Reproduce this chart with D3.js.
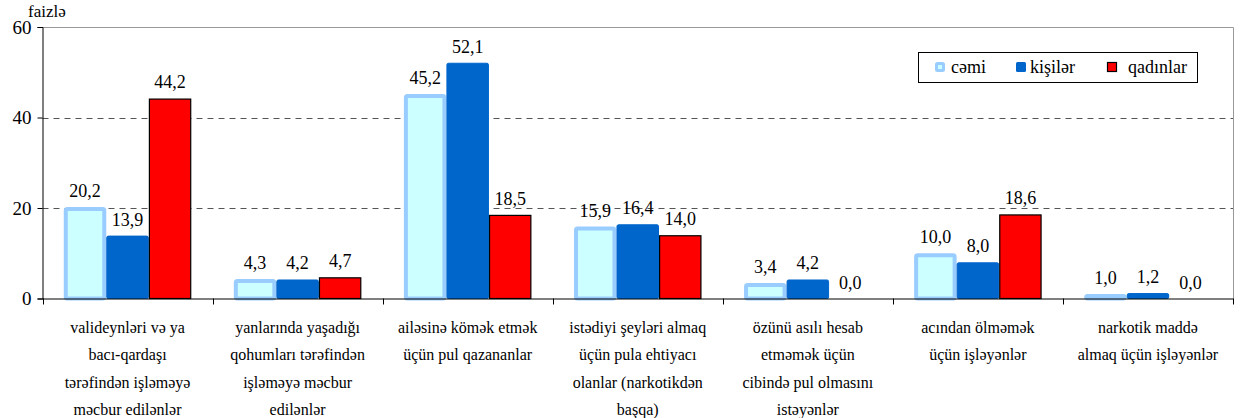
<!DOCTYPE html>
<html><head><meta charset="utf-8">
<script src="https://cdn.jsdelivr.net/npm/d3@7"></script>
<style>
body{margin:0;background:#fff;}
</style></head>
<body><svg id="c" width="1241" height="418"></svg>
<script>
const categories = [
  ["valideynləri və ya","bacı-qardaşı","tərəfindən işləməyə","məcbur edilənlər"],
  ["yanlarında yaşadığı","qohumları tərəfindən","işləməyə məcbur","edilənlər"],
  ["ailəsinə kömək etmək","üçün pul qazananlar"],
  ["istədiyi şeyləri almaq","üçün pula ehtiyacı","olanlar (narkotikdən","başqa)"],
  ["özünü asılı hesab","etməmək üçün","cibində pul olmasını","istəyənlər"],
  ["acından ölməmək","üçün işləyənlər"],
  ["narkotik maddə","almaq üçün işləyənlər"]
];
const seriesNames = ["cəmi","kişilər","qadınlar"];
const cemi     = [20.2, 4.3, 45.2, 15.9, 3.4, 10.0, 1.0];
const kisiler  = [13.9, 4.2, 52.1, 16.4, 4.2, 8.0, 1.2];
const qadinlar = [44.2, 4.7, 18.5, 14.0, 0.0, 18.6, 0.0];
const yTicks = [0, 20, 40, 60];
const yUnit = "faizlə";

const FONT = "Liberation Serif";
const series = [cemi, kisiler, qadinlar];
const svg = d3.select("#c");
const L = 42.5, R = 1233, T = 27, B = 298.5;
const x0 = d3.scaleBand().domain(d3.range(categories.length)).range([L, R]).paddingInner(0.25).paddingOuter(0.125);
const x1 = d3.scaleBand().domain(d3.range(3)).range([0, x0.bandwidth()]);
const y = d3.scaleLinear().domain([0, 60]).range([B, T]);

svg.append("g").selectAll("line").data([20, 40]).join("line")
  .attr("x1", L).attr("x2", R).attr("y1", d => Math.round(y(d)) + 0.5).attr("y2", d => Math.round(y(d)) + 0.5)
  .attr("stroke", "#555").attr("stroke-dasharray", "6,5").attr("stroke-width", 1);
svg.append("path").attr("d", `M${L},${T + 0.5}H${R + 0.5}V${B}`).attr("fill", "none").attr("stroke", "#999").attr("stroke-width", 1);

const styles = [
  {fill: "#CCFFFF", stroke: "#99CCFF", sw: 4},
  {fill: "#0066CC", stroke: "#0066CC", sw: 1},
  {fill: "#FF0000", stroke: "#000", sw: 1.2}
];
series.forEach((vals, s) => {
  const st = styles[s];
  const g = svg.append("g");
  g.selectAll("rect").data(vals).join("rect")
    .attr("x", (d, i) => x0(i) + x1(s) + st.sw / 2)
    .attr("width", x1.bandwidth() - st.sw)
    .attr("y", d => y(d) + st.sw / 2)
    .attr("height", d => Math.max(0, B - y(d) - st.sw / 2))
    .attr("display", d => d > 0 ? null : "none")
    .attr("fill", st.fill).attr("stroke", st.stroke).attr("stroke-width", st.sw)
    .attr("rx", s === 2 ? 0 : 1.5);
  g.selectAll("text").data(vals).join("text")
    .attr("x", (d, i) => x0(i) + x1(s) + x1.bandwidth() / 2)
    .attr("y", d => y(d) - 10)
    .attr("text-anchor", "middle").attr("font-size", 18).attr("font-family", FONT).attr("fill", "#000")
    .text(d => d3.format(".1f")(d).replace(".", ","));
});

const ya = svg.append("g").attr("transform", `translate(${L},0)`)
  .call(d3.axisLeft(y).tickValues(yTicks).tickSize(5).tickPadding(6));
ya.attr("font-family", FONT).attr("font-size", 19);
ya.select(".domain").attr("stroke", "#000");
ya.selectAll(".tick line").attr("stroke", "#000");
ya.selectAll(".tick text").attr("fill", "#000");
svg.append("text").attr("x", 28).attr("y", 17).attr("font-size", 17).attr("font-family", FONT).text(yUnit);

svg.append("line").attr("x1", L).attr("x2", R + 0.5).attr("y1", B + 0.5).attr("y2", B + 0.5).attr("stroke", "#000");
const step = x0.step();
svg.append("g").selectAll("line").data(d3.range(categories.length + 1)).join("line")
  .attr("x1", i => Math.round(L + i * step) + 0.5).attr("x2", i => Math.round(L + i * step) + 0.5)
  .attr("y1", B).attr("y2", B + 6).attr("stroke", "#000");
const cl = svg.append("g");
categories.forEach((lines, i) => {
  lines.forEach((ln, j) => {
    cl.append("text").attr("text-anchor", "middle").attr("font-size", 16).attr("font-family", FONT)
      .attr("x", x0(i) + x0.bandwidth() / 2).attr("y", 333 + j * 27.3).text(ln);
  });
});

const lg = svg.append("g");
lg.append("rect").attr("x", 918.5).attr("y", 52.5).attr("width", 279).attr("height", 30).attr("fill", "#fff").attr("stroke", "#000");
const lx = [935, 1016, 1107], tx = [951, 1030, 1128];
seriesNames.forEach((n, s) => {
  const st = styles[s];
  if (s === 0) lg.append("rect").attr("x", lx[s] + 1.5).attr("y", 63.5).attr("width", 7).attr("height", 7).attr("rx", 1).attr("fill", st.fill).attr("stroke", st.stroke).attr("stroke-width", 3);
  else if (s === 1) lg.append("rect").attr("x", lx[s]).attr("y", 62).attr("width", 10).attr("height", 10).attr("rx", 1.5).attr("fill", st.fill);
  else lg.append("rect").attr("x", lx[s] + 0.5).attr("y", 62.5).attr("width", 9).attr("height", 9).attr("fill", st.fill).attr("stroke", "#000").attr("stroke-width", 1.2);
  lg.append("text").attr("x", tx[s]).attr("y", 73).attr("font-size", 18).attr("font-family", FONT).text(n);
});
</script></body></html>
